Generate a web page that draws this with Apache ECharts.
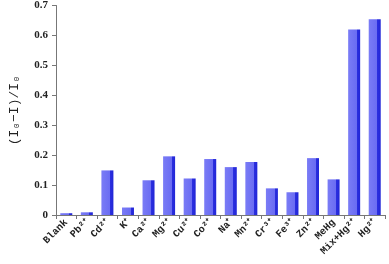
<!DOCTYPE html>
<html><head><meta charset="utf-8">
<script src="https://cdn.jsdelivr.net/npm/echarts@6/dist/echarts.min.js"></script>
<style>html,body{margin:0;padding:0;background:#fff}#c{width:389px;height:264px}</style>
</head><body><div id="c"></div>
<script>
const categories = ['Blank','Pb²⁺','Cd²⁺','K⁺','Ca²⁺','Mg²⁺','Cu²⁺','Co²⁺','Na⁺','Mn²⁺','Cr³⁺','Fe³⁺','Zn²⁺','MeHg','Mix+Hg²⁺','Hg²⁺'];
const values = [0.006,0.009,0.149,0.025,0.116,0.196,0.122,0.187,0.16,0.177,0.089,0.076,0.19,0.119,0.62,0.654];
const yTicks = [0,0.1,0.2,0.3,0.4,0.5,0.6,0.7];

const chart = echarts.init(document.getElementById('c'), null, {renderer:'canvas'});
const barColor = new echarts.graphic.LinearGradient(0,0,1,0,[
  {offset:0,color:'#7a7cf6'},{offset:0.72,color:'#6a6cf2'},
  {offset:0.72,color:'#2b2fe0'},{offset:1,color:'#2226d6'}
]);
chart.setOption({
  animation:false,
  grid:{left:48,right:4,top:4,bottom:49},
  xAxis:{type:'category',data:categories,
    axisLine:{lineStyle:{color:'#777'}},
    axisTick:{show:true,length:4,lineStyle:{color:'#777'}},
    axisLabel:{rotate:45,interval:0,fontFamily:'Liberation Mono',fontSize:10,fontWeight:'bold',color:'#222',margin:6}},
  yAxis:{type:'value',min:yTicks[0],max:yTicks[yTicks.length-1],interval:0.1,
    name:'(I\u2080\u2212I)/I\u2080',nameLocation:'middle',nameGap:35,
    nameTextStyle:{fontFamily:'Liberation Mono',fontSize:13,color:'#222'},
    axisLine:{show:true,lineStyle:{color:'#777'}},
    axisTick:{show:true,length:4,lineStyle:{color:'#777'}},
    splitLine:{show:false},
    axisLabel:{fontFamily:'Liberation Serif',fontSize:11,fontWeight:'bold',color:'#222',margin:8,
      formatter:v=>v===0?'0':v.toFixed(1)}},
  series:[{type:'bar',data:values,barWidth:12,
    itemStyle:{color:barColor}}]
});
</script></body></html>
